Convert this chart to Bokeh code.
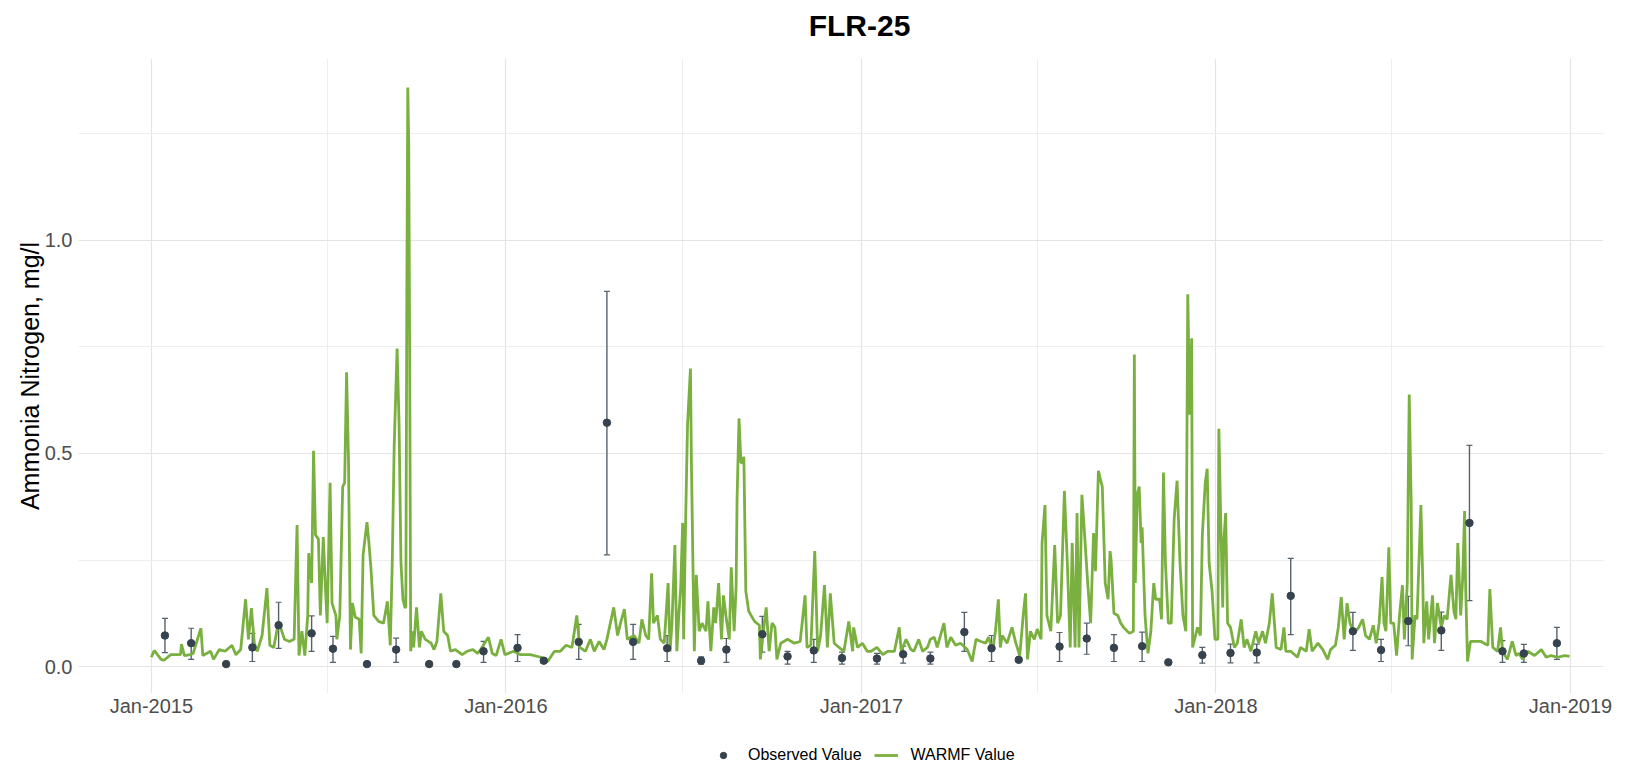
import pandas as pd
from bokeh.plotting import figure
from bokeh.layouts import column
from bokeh.models import (ColumnDataSource, FixedTicker, DatetimeTickFormatter,
                          PrintfTickFormatter, Whisker, TeeHead, Legend, LegendItem,
                          Range1d, Label)
from bokeh.embed import file_html
from bokeh.resources import INLINE

# ---------------- data ----------------
START = "2015-01-01"

# WARMF simulated value: day offset from START, value in mg/l
warmf_day = [
    0, 3, 10, 13, 20, 30, 31, 34, 40, 43,
    51, 53, 61, 64, 70, 76, 83, 87, 92, 97,
    100, 103, 106, 109, 114, 119, 122, 126, 131, 137,
    142, 147, 150, 152, 155, 158, 161, 162, 165, 167,
    169, 172, 174, 177, 179, 181, 184, 186, 190, 191,
    194, 197, 199, 201, 203, 205, 207, 210, 214, 216,
    218, 222, 224, 226, 229, 234, 239, 243, 246, 248,
    250, 253, 255, 257, 259, 261, 262, 263, 264, 265,
    266, 267, 269, 270, 273, 276, 278, 282, 288, 291,
    294, 298, 301, 305, 308, 313, 320, 325, 331, 336,
    339, 347, 351, 355, 360, 364, 373, 380, 390, 401,
    408, 415, 421, 427, 433, 438, 441, 447, 452, 456,
    461, 466, 469, 476, 480, 483, 487, 490, 497, 502,
    505, 509, 512, 515, 517, 521, 524, 528, 532, 534,
    536, 539, 541, 543, 545, 547, 548, 550, 552, 555,
    556, 558, 559, 561, 564, 567, 571, 573, 576, 579,
    581, 584, 587, 589, 592, 595, 597, 600, 602, 603,
    605, 607, 608, 610, 612, 615, 621, 626, 627, 631,
    633, 636, 639, 642, 644, 648, 655, 662, 668, 673,
    675, 679, 683, 686, 689, 693, 696, 699, 703, 708,
    713, 718, 722, 723, 727, 732, 737, 741, 747, 753,
    758, 765, 770, 772, 777, 782, 785, 790, 794, 799,
    802, 806, 809, 816, 819, 823, 828, 833, 840, 845,
    849, 854, 859, 862, 866, 869, 872, 874, 876, 881,
    886, 890, 894, 898, 900, 902, 905, 909, 912, 916,
    917, 920, 922, 926, 930, 933, 936, 940, 943, 946,
    948, 951, 953, 955, 958, 960, 964, 967, 970, 972,
    975, 977, 979, 982, 985, 987, 988, 991, 995, 998,
    1001, 1007, 1011, 1012, 1013, 1015, 1017, 1019, 1020, 1023,
    1026, 1029, 1032, 1034, 1038, 1040, 1042, 1044, 1047, 1050,
    1053, 1056, 1059, 1062, 1065, 1067, 1069, 1071, 1072, 1074,
    1077, 1080, 1082, 1085, 1087, 1089, 1092, 1095, 1098, 1099,
    1101, 1103, 1104, 1106, 1108, 1111, 1115, 1118, 1122, 1125,
    1128, 1132, 1137, 1140, 1144, 1147, 1151, 1154, 1158, 1163,
    1166, 1168, 1173, 1180, 1183, 1189, 1192, 1195, 1201, 1206,
    1211, 1214, 1219, 1222, 1225, 1228, 1231, 1234, 1237, 1240,
    1243, 1247, 1250, 1254, 1258, 1261, 1264, 1267, 1269, 1271,
    1274, 1276, 1279, 1282, 1285, 1288, 1290, 1293, 1294, 1295,
    1297, 1298, 1301, 1303, 1307, 1309, 1310, 1313, 1315, 1319,
    1321, 1324, 1328, 1331, 1334, 1338, 1341, 1343, 1345, 1348,
    1350, 1352, 1353, 1355, 1358, 1365, 1369, 1372, 1376, 1378,
    1381, 1386, 1389, 1391, 1396, 1401, 1405, 1408, 1412, 1417,
    1424, 1431, 1436, 1441, 1448, 1455, 1460,
]
warmf_val = [
    0.022, 0.038, 0.017, 0.015, 0.028, 0.028, 0.053, 0.026, 0.028, 0.031,
    0.090, 0.026, 0.036, 0.017, 0.040, 0.036, 0.050, 0.028, 0.040, 0.158,
    0.064, 0.137, 0.055, 0.036, 0.073, 0.184, 0.050, 0.045, 0.106, 0.064,
    0.059, 0.064, 0.332, 0.026, 0.083, 0.026, 0.120, 0.266, 0.196, 0.506,
    0.309, 0.299, 0.120, 0.304, 0.196, 0.102, 0.431, 0.149, 0.120, 0.064,
    0.120, 0.422, 0.431, 0.690, 0.478, 0.040, 0.149, 0.116, 0.111, 0.031,
    0.262, 0.339, 0.290, 0.233, 0.120, 0.106, 0.102, 0.153, 0.050, 0.243,
    0.516, 0.746, 0.572, 0.243, 0.158, 0.139, 0.139, 0.860, 1.358, 1.220,
    0.700, 0.036, 0.083, 0.045, 0.139, 0.045, 0.083, 0.064, 0.055, 0.040,
    0.059, 0.172, 0.083, 0.073, 0.036, 0.040, 0.028, 0.036, 0.040, 0.031,
    0.040, 0.069, 0.031, 0.026, 0.064, 0.028, 0.036, 0.028, 0.028, 0.022,
    0.012, 0.036, 0.036, 0.050, 0.045, 0.120, 0.045, 0.036, 0.064, 0.036,
    0.059, 0.040, 0.064, 0.139, 0.073, 0.102, 0.135, 0.064, 0.073, 0.055,
    0.111, 0.073, 0.064, 0.219, 0.102, 0.120, 0.064, 0.055, 0.196, 0.036,
    0.102, 0.285, 0.036, 0.120, 0.186, 0.337, 0.064, 0.337, 0.567, 0.699,
    0.478, 0.177, 0.036, 0.215, 0.083, 0.102, 0.083, 0.153, 0.036, 0.139,
    0.102, 0.196, 0.064, 0.167, 0.111, 0.064, 0.233, 0.083, 0.186, 0.393,
    0.582, 0.478, 0.478, 0.492, 0.177, 0.130, 0.106, 0.097, 0.017, 0.102,
    0.139, 0.036, 0.102, 0.092, 0.017, 0.055, 0.064, 0.055, 0.059, 0.167,
    0.045, 0.050, 0.271, 0.036, 0.073, 0.191, 0.045, 0.172, 0.055, 0.045,
    0.036, 0.106, 0.036, 0.092, 0.045, 0.055, 0.036, 0.036, 0.045, 0.028,
    0.036, 0.036, 0.092, 0.036, 0.064, 0.040, 0.036, 0.064, 0.036, 0.045,
    0.064, 0.069, 0.045, 0.102, 0.045, 0.069, 0.050, 0.055, 0.040, 0.012,
    0.064, 0.059, 0.055, 0.069, 0.036, 0.083, 0.158, 0.045, 0.073, 0.055,
    0.092, 0.055, 0.026, 0.130, 0.172, 0.017, 0.083, 0.064, 0.088, 0.064,
    0.290, 0.379, 0.120, 0.083, 0.285, 0.102, 0.120, 0.412, 0.243, 0.045,
    0.290, 0.045, 0.360, 0.045, 0.403, 0.337, 0.196, 0.102, 0.313, 0.224,
    0.459, 0.440, 0.422, 0.196, 0.158, 0.271, 0.252, 0.125, 0.120, 0.102,
    0.092, 0.078, 0.083, 0.732, 0.196, 0.403, 0.422, 0.290, 0.327, 0.120,
    0.031, 0.083, 0.196, 0.158, 0.158, 0.111, 0.455, 0.243, 0.102, 0.102,
    0.346, 0.436, 0.243, 0.120, 0.083, 0.873, 0.591, 0.770, 0.045, 0.064,
    0.092, 0.073, 0.309, 0.431, 0.464, 0.243, 0.177, 0.064, 0.064, 0.558,
    0.337, 0.139, 0.290, 0.360, 0.102, 0.092, 0.045, 0.055, 0.111, 0.045,
    0.064, 0.036, 0.083, 0.055, 0.083, 0.055, 0.102, 0.172, 0.045, 0.040,
    0.092, 0.036, 0.036, 0.022, 0.045, 0.036, 0.088, 0.036, 0.055, 0.040,
    0.017, 0.040, 0.050, 0.092, 0.163, 0.064, 0.149, 0.102, 0.083, 0.083,
    0.092, 0.111, 0.073, 0.064, 0.097, 0.055, 0.102, 0.210, 0.102, 0.083,
    0.280, 0.102, 0.102, 0.026, 0.120, 0.191, 0.064, 0.196, 0.431, 0.638,
    0.384, 0.017, 0.120, 0.111, 0.379, 0.196, 0.055, 0.153, 0.064, 0.167,
    0.055, 0.149, 0.092, 0.120, 0.111, 0.215, 0.130, 0.111, 0.290, 0.120,
    0.205, 0.365, 0.196, 0.012, 0.059, 0.059, 0.059, 0.055, 0.050, 0.182,
    0.045, 0.036, 0.092, 0.036, 0.017, 0.059, 0.026, 0.031, 0.017, 0.036,
    0.026, 0.040, 0.022, 0.026, 0.022, 0.026, 0.024,
]

# Observed samples: day offset, value, lower and upper error bound (mg/l)
obs_day = [
    14, 41, 77, 104, 131, 165, 187, 222,
    252, 286, 314, 342, 377, 404, 440, 469,
    496, 531, 566, 592, 629, 655, 682, 711,
    747, 774, 802, 837, 865, 893, 935, 963,
    991, 1020, 1047, 1082, 1111, 1138, 1173,
    1237, 1266, 1294, 1328, 1357, 1391, 1413, 1447,
]
obs_val = [
    0.073, 0.055, 0.006, 0.045, 0.097, 0.078, 0.042, 0.006,
    0.040, 0.006, 0.006, 0.036, 0.044, 0.014, 0.058, 0.572,
    0.058, 0.043, 0.014, 0.040, 0.076, 0.024, 0.038, 0.020,
    0.019, 0.029, 0.019, 0.081, 0.043, 0.016, 0.047, 0.066,
    0.044, 0.048, 0.010, 0.027, 0.032, 0.033, 0.166,
    0.083, 0.039, 0.107, 0.085, 0.337, 0.036, 0.031, 0.055,
]
obs_lo = [
    0.033, 0.017, 0.006, 0.012, 0.043, 0.036, 0.010, 0.006,
    0.010, 0.006, 0.006, 0.010, 0.012, 0.008, 0.017, 0.262,
    0.017, 0.012, 0.006, 0.010, 0.034, 0.006, 0.010, 0.006,
    0.006, 0.008, 0.006, 0.036, 0.012, 0.016, 0.012, 0.029,
    0.012, 0.012, 0.010, 0.008, 0.009, 0.009, 0.075,
    0.038, 0.012, 0.049, 0.038, 0.155, 0.010, 0.010, 0.017,
]
obs_hi = [
    0.113, 0.090, 0.006, 0.078, 0.151, 0.119, 0.071, 0.006,
    0.067, 0.006, 0.006, 0.059, 0.075, 0.020, 0.099, 0.880,
    0.099, 0.073, 0.023, 0.066, 0.118, 0.036, 0.064, 0.034,
    0.031, 0.048, 0.034, 0.127, 0.073, 0.016, 0.080, 0.102,
    0.075, 0.081, 0.010, 0.045, 0.053, 0.053, 0.254,
    0.127, 0.064, 0.165, 0.128, 0.519, 0.061, 0.052, 0.092,
]

x_tick_dates = ["2015-01-01", "2016-01-01", "2017-01-01", "2018-01-01", "2019-01-01"]
x_minor_dates = ["2015-07-01", "2016-07-01", "2017-07-01", "2018-07-01"]
y_ticks = [0.0, 0.5, 1.0]
y_minor_ticks = [0.25, 0.75, 1.25]

TITLE = "FLR-25"
Y_LABEL = "Ammonia Nitrogen, mg/l"
SERIES_OBS = "Observed Value"
SERIES_SIM = "WARMF Value"

assert len(warmf_day) == len(warmf_val)
assert len(obs_day) == len(obs_val) == len(obs_lo) == len(obs_hi)

# ---------------- build ----------------
base = pd.Timestamp(START)
wx = base + pd.to_timedelta(warmf_day, unit="D")
ox = base + pd.to_timedelta(obs_day, unit="D")

sim_src = ColumnDataSource(dict(x=wx, y=warmf_val))
obs_src = ColumnDataSource(dict(x=ox, y=obs_val))
err_rows = [i for i in range(len(obs_day)) if obs_hi[i] - obs_lo[i] > 0.004]
err_src = ColumnDataSource(dict(
    x=[ox[i] for i in err_rows],
    lo=[obs_lo[i] for i in err_rows],
    hi=[obs_hi[i] for i in err_rows],
))

FONT = "Liberation Sans"
GREEN = "#7AB03F"
DOT = "#36434E"
ERR = "#56626B"
W = 1632


def ms(d):
    return pd.Timestamp(d).value // 10**6


def blank_strip(height):
    f = figure(width=W, height=height, output_backend="svg", toolbar_location=None,
               x_range=Range1d(0, 1), y_range=Range1d(0, 1),
               x_axis_location=None, y_axis_location=None, min_border=0)
    f.grid.visible = False
    f.outline_line_color = None
    f.background_fill_color = "white"
    f.border_fill_color = "white"
    return f


# title strip
tf = blank_strip(58)
tf.add_layout(Label(x=781, y=33.5, x_units="screen", y_units="screen", text=TITLE,
                    text_font=FONT, text_font_size="30px", text_font_style="bold",
                    text_color="black", text_align="center", text_baseline="middle"))

# main plot
p = figure(
    width=W, height=670,
    x_axis_type="datetime",
    x_range=Range1d(pd.Timestamp("2014-10-18"), pd.Timestamp("2019-02-04")),
    y_range=Range1d(-0.063, 1.426),
    output_backend="svg", toolbar_location=None,
    min_border_left=78, min_border_right=29, min_border_top=0, min_border_bottom=35,
)
p.outline_line_color = None
p.background_fill_color = "white"
p.border_fill_color = "white"

p.xaxis.ticker = FixedTicker(ticks=[ms(d) for d in x_tick_dates],
                             minor_ticks=[ms(d) for d in x_minor_dates])
p.xaxis.formatter = DatetimeTickFormatter(years="%b-%Y", months="%b-%Y", days="%b-%Y",
                                          hours="%b-%Y", minutes="%b-%Y")
p.yaxis.ticker = FixedTicker(ticks=y_ticks, minor_ticks=y_minor_ticks)
p.yaxis.formatter = PrintfTickFormatter(format="%.1f")
p.yaxis.axis_label = Y_LABEL

for ax in (p.xaxis, p.yaxis):
    ax.axis_line_color = None
    ax.major_tick_line_color = None
    ax.minor_tick_line_color = None
    ax.major_tick_out = 0
    ax.minor_tick_out = 0
    ax.major_label_text_font = FONT
    ax.major_label_text_font_size = "20px"
    ax.major_label_text_color = "#4D4D4D"
p.xaxis.major_label_standoff = 1
p.yaxis.major_label_standoff = 6
p.yaxis.axis_label_text_font = FONT
p.yaxis.axis_label_text_font_size = "25px"
p.yaxis.axis_label_text_font_style = "normal"
p.yaxis.axis_label_text_color = "black"
p.yaxis.axis_label_standoff = -2

for g in (p.xgrid, p.ygrid):
    g.grid_line_color = "#E4E4E4"
    g.grid_line_width = 1.2
    g.minor_grid_line_color = "#EEEEEE"
    g.minor_grid_line_width = 1.0

p.line("x", "y", source=sim_src, line_color=GREEN, line_width=2.8)
p.add_layout(Whisker(source=err_src, base="x", lower="lo", upper="hi", dimension="height",
                     line_color=ERR, line_width=1.4,
                     upper_head=TeeHead(size=6, line_color=ERR, line_width=1.2),
                     lower_head=TeeHead(size=6, line_color=ERR, line_width=1.2)))
p.scatter("x", "y", source=obs_src, size=7.5, fill_color=DOT, line_color=DOT)

# legend strip below the plot (keys only; off-range placeholder glyphs)
lg = blank_strip(36)
lg_obs = lg.scatter(x=[-5], y=[-5], size=7.5, fill_color=DOT, line_color=DOT)
lg_sim = lg.line(x=[-5, -4], y=[-5, -5], line_color=GREEN, line_width=2.8)
legend = Legend(items=[LegendItem(label=SERIES_OBS, renderers=[lg_obs]),
                       LegendItem(label=SERIES_SIM, renderers=[lg_sim])],
                orientation="horizontal", location=(633, 0),
                label_text_font=FONT, label_text_font_size="16px", label_text_color="black",
                glyph_width=24, glyph_height=16, label_standoff=13, spacing=12,
                border_line_color=None, background_fill_alpha=0,
                padding=0, margin=0)
lg.add_layout(legend, "center")

layout = column(tf, p, lg, spacing=0)
open("out.html", "w").write(file_html(layout, INLINE))
